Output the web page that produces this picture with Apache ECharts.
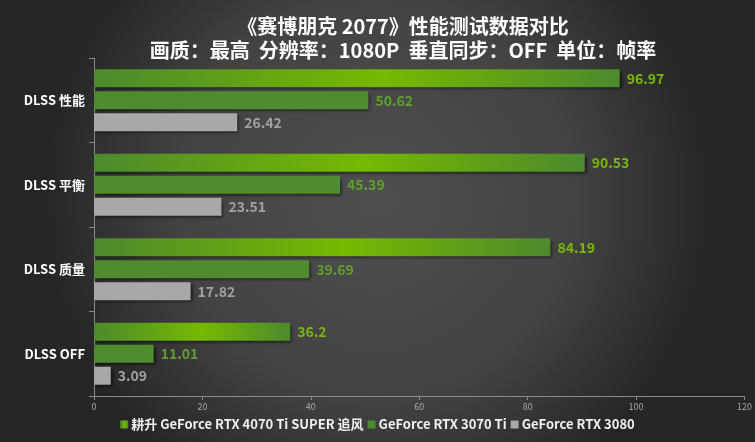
<!DOCTYPE html>
<html><head><meta charset="utf-8">
<script src="https://cdn.jsdelivr.net/npm/echarts@6/dist/echarts.min.js"></script>
<style>html,body{margin:0;padding:0;background:#333;}#c{width:755px;height:442px;}</style>
</head><body><div id="c"></div>
<script>
const categories = ['DLSS 性能', 'DLSS 平衡', 'DLSS 质量', 'DLSS OFF'];
const seriesNames = ['耕升 GeForce RTX 4070 Ti SUPER 追风', 'GeForce RTX 3070 Ti', 'GeForce RTX 3080'];
const s1 = [96.97, 90.53, 84.19, 36.2];
const s2 = [50.62, 45.39, 39.69, 11.01];
const s3 = [26.42, 23.51, 17.82, 3.09];
const xTicks = [0, 20, 40, 60, 80, 100, 120];

const chart = echarts.init(document.getElementById('c'));
const font = '"Noto Sans CJK SC", "Noto Sans", sans-serif';
const shadow = {shadowColor: 'rgba(0,0,0,0.55)', shadowBlur: 3, shadowOffsetX: 2, shadowOffsetY: 2};
const grad1 = new echarts.graphic.LinearGradient(0, 0, 1, 0, [
  {offset: 0, color: '#4c8a2d'}, {offset: 0.55, color: '#76b900'}, {offset: 1, color: '#4c8a2d'}]);
function lbl(color) {
  return {show: true, position: 'right', distance: 7, color: color, fontWeight: 'bold', fontSize: 14, fontFamily: font};
}
chart.setOption({
  backgroundColor: new echarts.graphic.RadialGradient(0.5, 0.45, 0.75, [
    {offset: 0, color: '#4f4f4f'}, {offset: 0.6, color: '#434343'}, {offset: 1, color: '#262626'}]),
  animation: false,
  title: {
    text: '《赛博朋克 2077》性能测试数据对比\n画质：最高  分辨率：1080P  垂直同步：OFF  单位：帧率',
    left: 398, textAlign: 'center', top: 9,
    textStyle: {color: '#ffffff', fontSize: 20, fontWeight: 'bold', fontFamily: font, lineHeight: 24}
  },
  legend: {
    data: seriesNames, bottom: 6, left: 'center', itemWidth: 8, itemHeight: 8, itemGap: 4,
    icon: 'rect',
    textStyle: {color: '#f0f0f0', fontSize: 13, fontWeight: 'bold', fontFamily: font, padding: [0, 0, 0, -2]}
  },
  grid: {left: 94, right: 9, top: 58, bottom: 46, containLabel: false},
  xAxis: {
    type: 'value', min: 0, max: 120, interval: 20,
    axisLine: {show: true, lineStyle: {color: '#8a8a8a'}},
    axisTick: {show: true, length: 4, lineStyle: {color: '#8a8a8a'}},
    axisLabel: {color: '#a8a8a8', fontSize: 9, fontFamily: font, margin: 6,
      formatter: v => xTicks.includes(v) ? String(v) : ''},
    splitLine: {show: false}
  },
  yAxis: {
    type: 'category', data: categories, inverse: true,
    axisLine: {show: true, lineStyle: {color: '#8a8a8a'}},
    axisTick: {show: true, length: 5, lineStyle: {color: '#8a8a8a'}},
    axisLabel: {color: '#ffffff', fontSize: 13, fontWeight: 'bold', fontFamily: font, margin: 9}
  },
  series: [
    {name: seriesNames[0], type: 'bar', data: s1, barWidth: 18, barGap: '22%',
      itemStyle: Object.assign({color: grad1}, shadow), label: lbl('#76b900')},
    {name: seriesNames[1], type: 'bar', data: s2, barWidth: 18, barGap: '22%',
      itemStyle: Object.assign({color: '#4f8c2f'}, shadow), label: lbl('#5f9f2c')},
    {name: seriesNames[2], type: 'bar', data: s3, barWidth: 18, barGap: '22%',
      itemStyle: Object.assign({color: '#a8a8a8'}, shadow), label: lbl('#a0a0a0')}
  ],
  color: ['#6aab1c', '#4f8c2f', '#a8a8a8']
});
</script></body></html>
